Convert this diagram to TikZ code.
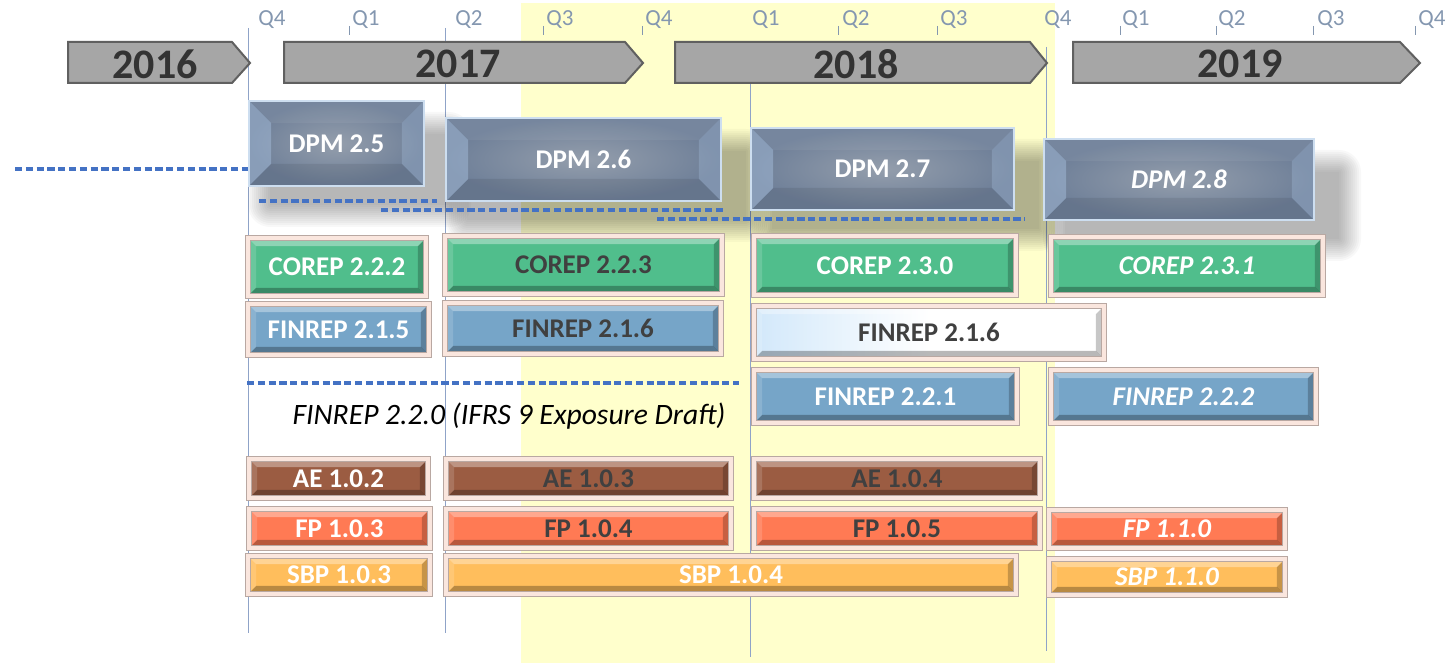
\documentclass[tikz,border=0pt]{standalone}
\usepackage{fontspec}
\setmainfont{Carlito}
\usetikzlibrary{calc}
\definecolor{band}{RGB}{255,255,204}
\definecolor{vline}{RGB}{143,163,200}
\definecolor{qtext}{RGB}{132,151,176}
\definecolor{yearfill}{RGB}{166,166,166}
\definecolor{yeardraw}{RGB}{96,96,96}
\definecolor{yeartext}{RGB}{51,51,51}
\definecolor{dashblue}{RGB}{68,114,196}
\definecolor{dpmfill}{RGB}{110,127,152}
\definecolor{dpmcenter}{RGB}{148,158,172}
\definecolor{dpmedge}{RGB}{205,222,240}
\definecolor{dpmside}{RGB}{170,195,225}
\definecolor{framepink}{RGB}{250,230,222}
\definecolor{frameedge}{RGB}{185,168,162}
\definecolor{cgreen}{RGB}{80,190,140}
\definecolor{cblue}{RGB}{118,165,200}
\definecolor{cbrown}{RGB}{155,92,66}
\definecolor{cred}{RGB}{255,122,84}
\definecolor{corange}{RGB}{255,190,92}
\definecolor{darktext}{RGB}{64,64,64}
\definecolor{whitetint}{RGB}{210,232,250}
\pgfdeclarelayer{back}
\pgfdeclarelayer{shadowlayer}
\pgfsetlayers{back,shadowlayer,main}
\newcommand\placebox[8]{\node[#1, minimum width={(#5-#3)*0.5pt-#2}, minimum height={(#6-#4)*0.5pt-#2}] (#7) at ({(#3+#5)/2},{(#4+#6)/2}) {#8};}
\newcommand\softshadow[1]{\foreach \e in {0,2,...,22}{\fill[black,opacity=.028,rounded corners={\e*0.5pt+0.1pt}] ($(#1.north west)+(22-\e,34-\e)$) rectangle ($(#1.south east)+(24+\e,18+\e)$);}}
\tikzset{
  bevel/.style={path picture={
    \fill[white,opacity=.35] (path picture bounding box.north west) -- (path picture bounding box.north east) -- ([xshift=-#1,yshift=-#1]path picture bounding box.north east) -- ([xshift=#1,yshift=-#1]path picture bounding box.north west) -- cycle;
    \fill[black,opacity=.28] (path picture bounding box.south west) -- (path picture bounding box.south east) -- ([xshift=-#1,yshift=#1]path picture bounding box.south east) -- ([xshift=#1,yshift=#1]path picture bounding box.south west) -- cycle;
    \fill[white,opacity=.15] (path picture bounding box.north west) -- (path picture bounding box.south west) -- ([xshift=#1,yshift=#1]path picture bounding box.south west) -- ([xshift=#1,yshift=-#1]path picture bounding box.north west) -- cycle;
    \fill[black,opacity=.22] (path picture bounding box.north east) -- (path picture bounding box.south east) -- ([xshift=-#1,yshift=#1]path picture bounding box.south east) -- ([xshift=-#1,yshift=-#1]path picture bounding box.north east) -- cycle;
  }},
  dpmbevel/.style={path picture={
    \fill[white,opacity=.06] (path picture bounding box.north west) -- (path picture bounding box.north east) -- ([xshift=-11pt,yshift=-11pt]path picture bounding box.north east) -- ([xshift=11pt,yshift=-11pt]path picture bounding box.north west) -- cycle;
    \fill[black,opacity=.08] (path picture bounding box.south west) -- (path picture bounding box.south east) -- ([xshift=-11pt,yshift=11pt]path picture bounding box.south east) -- ([xshift=11pt,yshift=11pt]path picture bounding box.south west) -- cycle;
    \fill[dpmside,opacity=.45] (path picture bounding box.north west) -- (path picture bounding box.south west) -- ([xshift=11pt,yshift=11pt]path picture bounding box.south west) -- ([xshift=11pt,yshift=-11pt]path picture bounding box.north west) -- cycle;
    \fill[dpmside,opacity=.3] (path picture bounding box.north east) -- (path picture bounding box.south east) -- ([xshift=-11pt,yshift=11pt]path picture bounding box.south east) -- ([xshift=-11pt,yshift=-11pt]path picture bounding box.north east) -- cycle;
  }},
  barbox/.style={draw=frameedge, double=framepink, double distance=2.2pt, line width=0.5pt, fill=#1, bevel=4pt, inner sep=0pt, font=\bfseries\fontsize{13.5}{16}\selectfont, text=white},
  whitebar/.style={barbox=white, left color=whitetint, right color=white, middle color=white},
  dpm/.style={draw=dpmedge, line width=1.2pt, inner color=dpmcenter, outer color=dpmfill, dpmbevel, inner sep=0pt, font=\bfseries\fontsize{13.5}{16}\selectfont, text=white},
  yeararrow/.style={fill=yearfill, draw=yeardraw, line width=1pt},
  yearlabel/.style={font=\bfseries\fontsize{21}{24}\selectfont, text=yeartext, inner sep=0pt},
  qlabel/.style={font=\fontsize{11.5}{13}\selectfont, text=qtext, anchor=west, inner sep=0pt},
  qtick/.style={draw=qtext, line width=0.5pt},
  timeline/.style={draw=vline, line width=0.5pt},
  draftline/.style={draw=dashblue, line width=1.6pt, dash pattern=on 3.6pt off 1.8pt},
}
\begin{document}
\begin{tikzpicture}[x=0.5pt,y=-0.5pt]
\useasboundingbox (0,0) rectangle (1453,663);
\begin{pgfonlayer}{back}
  \fill[band] (521,3) rectangle (1055,663);
  \draw[timeline] (248,28) -- (248,633);
  \draw[timeline] (445,28) -- (445,633);
  \draw[timeline] (750,83) -- (750,657);
  \draw[timeline] (1046,47) -- (1046,651);
\end{pgfonlayer}
% quarter labels
\node[qlabel] (q1) at (258,20) {Q4};
\node[qlabel] (q2) at (352,20) {Q1};
\node[qlabel] (q3) at (455,20) {Q2};
\node[qlabel] (q4) at (546,20) {Q3};
\node[qlabel] (q5) at (645,20) {Q4};
\node[qlabel] (q6) at (752,20) {Q1};
\node[qlabel] (q7) at (842,20) {Q2};
\node[qlabel] (q8) at (940,20) {Q3};
\node[qlabel] (q9) at (1044,20) {Q4};
\node[qlabel] (q10) at (1122,20) {Q1};
\node[qlabel] (q11) at (1218,20) {Q2};
\node[qlabel] (q12) at (1317,20) {Q3};
\node[qlabel] (q13) at (1418,20) {Q4};
\foreach \t in {349,543,642,838,937,1120,1216,1313,1415} \draw[qtick] (\t,26) -- (\t,35);
% year arrows
\draw[yeararrow] (68,42) -- (232,42) -- (250,63) -- (232,83) -- (68,83) -- cycle;
\draw[yeararrow] (284,42) -- (625,42) -- (643,63) -- (625,83) -- (284,83) -- cycle;
\draw[yeararrow] (675,42) -- (1030,42) -- (1047,63) -- (1030,83) -- (675,83) -- cycle;
\draw[yeararrow] (1073,42) -- (1400,42) -- (1420,63) -- (1400,83) -- (1073,83) -- cycle;
\node[yearlabel] (y2016) at (155,64) {2016};
\node[yearlabel] (y2017) at (458,64) {2017};
\node[yearlabel] (y2018) at (856,64) {2018};
\node[yearlabel] (y2019) at (1240,64) {2019};
% DPM boxes
\placebox{dpm}{1.2pt}{248}{100}{425}{187}{dpm25}{DPM 2.5}
\placebox{dpm}{1.2pt}{445}{117}{722}{202}{dpm26}{DPM 2.6}
\placebox{dpm}{1.2pt}{750}{127}{1015}{211}{dpm27}{DPM 2.7}
\placebox{dpm}{1.2pt}{1043}{138}{1315}{221}{dpm28}{\itshape DPM 2.8}
\begin{pgfonlayer}{shadowlayer}
  \softshadow{dpm25}
  \softshadow{dpm26}
  \softshadow{dpm27}
  \softshadow{dpm28}
\end{pgfonlayer}
% dashed lines
\coordinate (da1) at (15,169);
\draw[draftline] (da1) -- (dpm25.west |- da1);
\coordinate (da2) at (259,201); \coordinate (db2) at (437,201);
\draw[draftline] (da2) -- (db2);
\coordinate (da3) at (381,210); \coordinate (db3) at (723,210);
\draw[draftline] (da3) -- (db3);
\coordinate (da4) at (657,219); \coordinate (db4) at (1025,219);
\draw[draftline] (da4) -- (db4);
\coordinate (da5) at (247,383); \coordinate (db5) at (739,383);
\draw[draftline] (da5) -- (db5);
% COREP
\placebox{barbox=cgreen}{3.2pt}{245}{235}{429}{299}{c222}{COREP 2.2.2}
\placebox{barbox=cgreen,text=darktext}{3.2pt}{442}{233}{725}{297}{c223}{COREP 2.2.3}
\placebox{barbox=cgreen}{3.2pt}{751}{233}{1019}{298}{c230}{COREP 2.3.0}
\placebox{barbox=cgreen}{3.2pt}{1048}{234}{1326}{298}{c231}{\itshape COREP 2.3.1}
% FINREP
\placebox{barbox=cblue}{3.2pt}{245}{301}{432}{358}{f215}{FINREP 2.1.5}
\placebox{barbox=cblue,text=darktext}{3.2pt}{442}{300}{724}{357}{f216a}{FINREP 2.1.6}
\placebox{whitebar,text=darktext}{3.2pt}{751}{303}{1107}{362}{f216b}{FINREP 2.1.6}
\placebox{barbox=cblue}{3.2pt}{751}{367}{1020}{426}{f221}{FINREP 2.2.1}
\placebox{barbox=cblue}{3.2pt}{1048}{367}{1319}{426}{f222}{\itshape FINREP 2.2.2}
\node[font=\itshape\fontsize{14.8}{17}\selectfont, text=black, inner sep=0pt] (f220) at (509,416) {FINREP 2.2.0 (IFRS 9 Exposure Draft)};
% AE
\placebox{barbox=cbrown}{3.2pt}{246}{456}{431}{501}{ae102}{AE 1.0.2}
\placebox{barbox=cbrown,text=darktext}{3.2pt}{443}{456}{734}{501}{ae103}{AE 1.0.3}
\placebox{barbox=cbrown,text=darktext}{3.2pt}{751}{456}{1043}{501}{ae104}{AE 1.0.4}
% FP
\placebox{barbox=cred}{3.2pt}{246}{506}{433}{551}{fp103}{FP 1.0.3}
\placebox{barbox=cred,text=darktext}{3.2pt}{443}{506}{734}{551}{fp104}{FP 1.0.4}
\placebox{barbox=cred,text=darktext}{3.2pt}{751}{506}{1043}{551}{fp105}{FP 1.0.5}
\placebox{barbox=cred}{3.2pt}{1046}{507}{1288}{551}{fp110}{\itshape FP 1.1.0}
% SBP
\placebox{barbox=corange}{3.2pt}{245}{553}{433}{597}{sbp103}{SBP 1.0.3}
\placebox{barbox=corange}{3.2pt}{443}{553}{1019}{597}{sbp104}{SBP 1.0.4}
\placebox{barbox=corange}{3.2pt}{1046}{556}{1288}{598}{sbp110}{\itshape SBP 1.1.0}
\end{tikzpicture}
\end{document}
